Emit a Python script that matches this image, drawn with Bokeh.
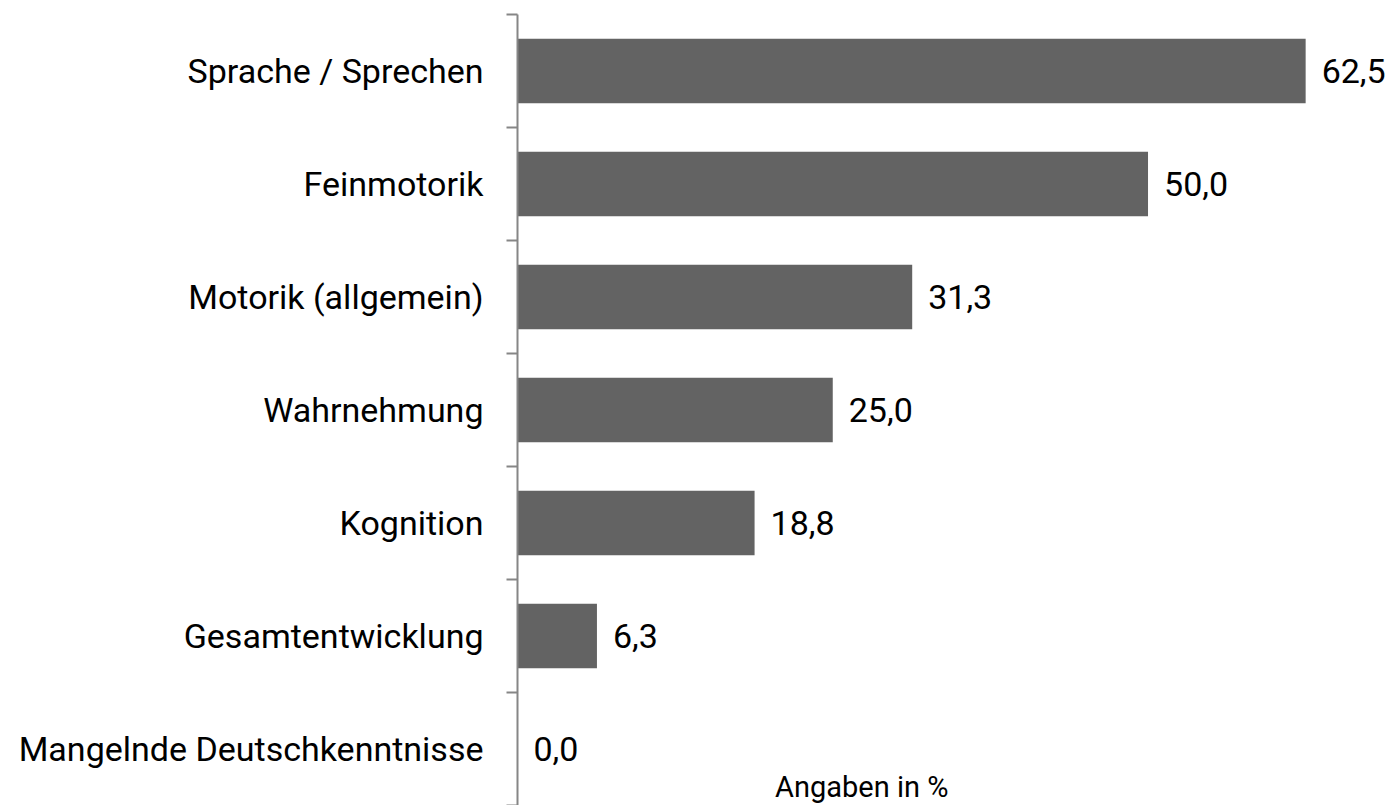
from bokeh.plotting import figure
from bokeh.models import ColumnDataSource, FixedTicker, Range1d, Label
from bokeh.embed import file_html
from bokeh.resources import INLINE
from bokeh.core.properties import value

# data (bottom to top)
categories = ["Mangelnde Deutschkenntnisse", "Gesamtentwicklung", "Kognition",
              "Wahrnehmung", "Motorik (allgemein)", "Feinmotorik", "Sprache / Sprechen"]
values = [0.0, 6.3, 18.8, 25.0, 31.3, 50.0, 62.5]
axis_note = "Angaben in %"

FONT = "Roboto"
pos = [i + 0.5 for i in range(len(categories))]
labels = [f"{v:.1f}".replace(".", ",") for v in values]
src = ColumnDataSource(dict(y=pos, v=values, lab=labels))

p = figure(width=1388, height=805, output_backend="svg", toolbar_location=None,
           x_range=Range1d(0, 69.07), y_range=Range1d(0, len(categories)),
           min_border_left=517, min_border_top=14, min_border_bottom=0, min_border_right=0)
p.outline_line_color = None
p.grid.visible = False
p.xaxis.visible = False

p.hbar(y="y", right="v", left=0, height=0.57, source=src,
       fill_color="#636363", line_color=None)
p.text(x="v", y="y", text="lab", source=src, x_offset=16,
       text_baseline="middle", text_align="left",
       text_font=value(FONT), text_font_size="34px", text_color="#000000")

ya = p.yaxis[0]
ya.ticker = FixedTicker(ticks=pos, minor_ticks=list(range(len(categories) + 1)))
ya.major_label_overrides = {pv: c for pv, c in zip(pos, categories)}
ya.major_tick_out = 0
ya.major_tick_in = 0
ya.minor_tick_out = 11
ya.minor_tick_in = 0
ya.minor_tick_line_color = "#868686"
ya.minor_tick_line_width = 2
ya.axis_line_color = "#868686"
ya.axis_line_width = 2
ya.major_label_standoff = 23
ya.major_label_text_font = FONT
ya.major_label_text_font_size = "34px"
ya.major_label_text_color = "#000000"

p.add_layout(Label(x=27.3, y=0, y_offset=2, text=axis_note, text_align="center",
                   text_baseline="bottom", text_font=FONT, text_font_size="29px",
                   text_color="#000000"))

open("out.html", "w").write(file_html(p, INLINE))
